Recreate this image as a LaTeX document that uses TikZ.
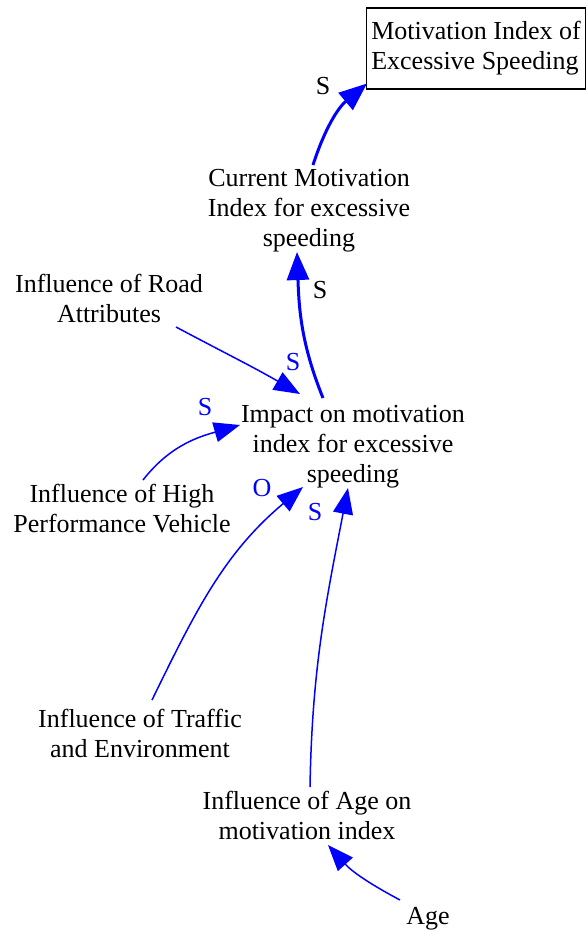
\documentclass[tikz,border=0pt]{standalone}
\usepackage{fontspec}
\setmainfont{Liberation Serif}
\usetikzlibrary{arrows.meta,calc}
\begin{document}
\begin{tikzpicture}[x=0.5pt,y=-0.5pt,
  lbl/.style={font=\fontsize{13}{15}\selectfont, align=center, inner sep=0pt},
  stockbox/.style={font=\fontsize{13}{15}\selectfont, align=left, inner sep=0pt, draw=black, line width=0.75pt, minimum width=109.5pt, minimum height=40.5pt},
  linkthin/.style={draw=blue, line width=0.75pt, -{Triangle[length=13pt,width=10pt]}},
  linkthick/.style={draw=blue, line width=1.5pt, -{Triangle[length=14pt,width=11pt]}},
  polb/.style={font=\fontsize{13}{15}\selectfont, inner sep=0pt, text=black},
  pol/.style={font=\fontsize{13}{15}\selectfont, inner sep=0pt, text=blue}]
\useasboundingbox (0,0) rectangle (587,933);

\node[stockbox] (mot) at (476,48.5) {Motivation Index of\\Excessive Speeding};
\node[lbl] (cur) at (309,211) {Current Motivation\\Index for excessive\\speeding};
\node[lbl] (road) at (109,298) {Influence of Road\\Attributes};
\node[lbl] (imp) at (353,447) {Impact on motivation\\index for excessive\\speeding};
\node[lbl] (high) at (122,509) {Influence of High\\Performance Vehicle};
\node[lbl] (traf) at (140,733) {Influence of Traffic\\and Environment};
\node[lbl] (agei) at (307,815) {Influence of Age on\\motivation index};
\node[lbl] (age) at (428,919) {Age};

\draw[linkthick] ($(cur)+(4,-46)$) to[out=72,in=220] ($(mot)+(-109,35)$);
\draw[linkthick] ($(imp)+(-30,-49)$) to[out=112,in=-88] ($(cur)+(-12,41)$);
\draw[linkthin] ($(road)+(67,29)$) to[out=-28,in=150] ($(imp)+(-53,-53)$);
\draw[linkthin] ($(high)+(21,-29)$) to[out=52,in=196] ($(imp)+(-113,-22)$);
\draw[linkthin] ($(traf)+(12,-33)$) to[out=64,in=220] ($(imp)+(-50,40)$);
\draw[linkthin] ($(agei)+(3,-28)$) to[out=89,in=-101] ($(imp)+(-5,41)$);
\draw[linkthin] ($(age)+(-28,-19)$) to[out=152,in=-48] ($(agei)+(21,30)$);

\node[polb] (p1) at (323,86) {S};
\node[polb] (p2) at (320,290) {S};
\node[pol] (p3) at (293,362) {S};
\node[pol] (p4) at (205,407) {S};
\node[pol] (p5) at (262,488) {O};
\node[pol] (p6) at (315,512) {S};
\end{tikzpicture}
\end{document}
